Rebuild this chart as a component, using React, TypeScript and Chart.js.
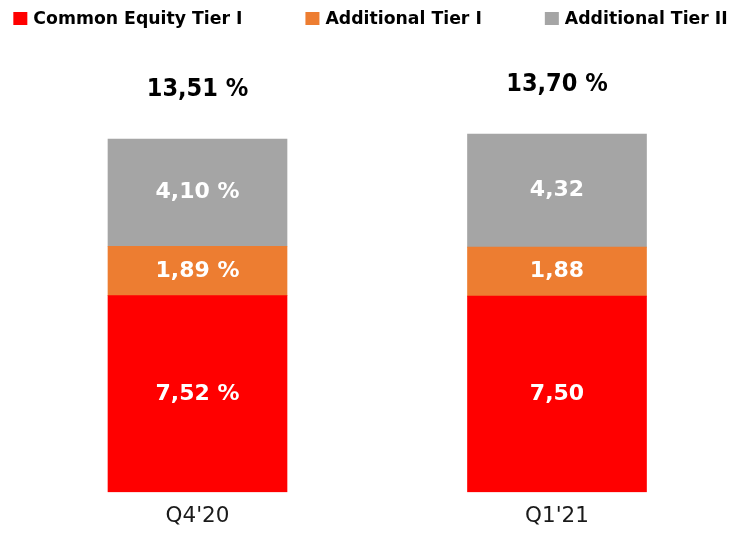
import React, { useEffect, useRef } from "react";
import { Chart, registerables } from "chart.js";

Chart.register(...registerables);

const categories = ["Q4'20", "Q1'21"];
const commonEquityTier1 = [7.52, 7.5];
const additionalTier1 = [1.89, 1.88];
const additionalTier2 = [4.1, 4.32];
const seriesNames = ["Common Equity Tier I", "Additional Tier I", "Additional Tier II"];
const seriesColors = ["#FF0000", "#ED7D31", "#A5A5A5"];
const showPercentSign = [true, false];

const seriesValues = [commonEquityTier1, additionalTier1, additionalTier2];

const fmt = (v: number) => v.toFixed(2).replace(".", ",");

const labelPlugin = {
  id: "labelPlugin",
  afterDatasetsDraw(chart: any) {
    const ctx = chart.ctx;
    ctx.save();
    ctx.textAlign = "center";
    ctx.textBaseline = "middle";
    ctx.fillStyle = "#FFFFFF";
    ctx.font = 'bold 22px "DejaVu Sans"';
    chart.data.datasets.forEach((ds: any, d: number) => {
      const meta = chart.getDatasetMeta(d);
      meta.data.forEach((el: any, i: number) => {
        const { x, y, base } = el.getProps(["x", "y", "base"], true);
        const v = seriesValues[d][i];
        const txt = fmt(v) + (showPercentSign[i] ? " %" : "");
        ctx.fillText(txt, x, (y + base) / 2);
      });
    });
    ctx.fillStyle = "#000000";
    ctx.font = 'bold 25px "DejaVu Sans Condensed"';
    const lastMeta = chart.getDatasetMeta(chart.data.datasets.length - 1);
    lastMeta.data.forEach((el: any, i: number) => {
      const { x, y } = el.getProps(["x", "y"], true);
      const total = seriesValues.reduce((s, arr) => s + arr[i], 0);
      ctx.fillText(fmt(total) + " %", x, y - 50);
    });
    ctx.font = 'bold 17.3px "DejaVu Sans"';
    ctx.textAlign = "left";
    const widths = seriesNames.map((n) => ctx.measureText(n).width);
    const gap = 63;
    const boxW = 14;
    const textOff = 20;
    const totalW = widths.reduce((s, w) => s + textOff + w, 0) + gap * (seriesNames.length - 1);
    let lx = 370.5 - totalW / 2;
    const ly = 18.5;
    seriesNames.forEach((n, k) => {
      ctx.fillStyle = seriesColors[k];
      ctx.fillRect(lx, ly - 6.5, boxW, 13);
      ctx.fillStyle = "#000000";
      ctx.fillText(n, lx + textOff, ly + 1);
      lx += textOff + widths[k] + gap;
    });
    ctx.restore();
  },
};

export default function App() {
  const canvasRef = useRef<HTMLCanvasElement | null>(null);

  useEffect(() => {
    if (!canvasRef.current) return;
    const chart = new Chart(canvasRef.current, {
      type: "bar",
      data: {
        labels: categories,
        datasets: seriesNames.map((name, d) => ({
          label: name,
          data: seriesValues[d],
          backgroundColor: seriesColors[d],
          borderWidth: 0,
          barThickness: 179,
        })),
      },
      options: {
        animation: false,
        responsive: true,
        maintainAspectRatio: false,
        devicePixelRatio: 1,
        layout: { padding: { top: 61, bottom: 0, left: 17.75, right: 3.25 } },
        plugins: {
          legend: { display: false },
          tooltip: { enabled: false },
        },
        scales: {
          x: {
            stacked: true,
            grid: { display: false, drawTicks: false },
            border: { display: false },
            ticks: {
              autoSkip: false,
              maxRotation: 0,
              padding: 11,
              color: "#1a1a1a",
              font: { family: "DejaVu Sans", size: 21.5 },
            },
          },
          y: {
            display: false,
            stacked: true,
            min: 0,
            max: 16.5,
          },
        },
      } as any,
      plugins: [labelPlugin],
    });
    return () => chart.destroy();
  }, []);

  return (
    <div style={{ position: "fixed", left: 0, top: 0, width: 740, height: 540 }}>
      <canvas ref={canvasRef} />
    </div>
  );
}
